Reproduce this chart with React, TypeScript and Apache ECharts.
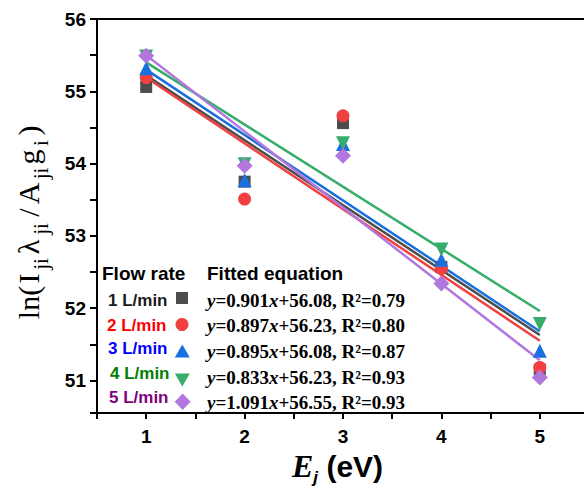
import React, { useEffect, useRef } from "react";
import * as echarts from "echarts";

const xValues = [1, 2, 3, 4, 5];
const flowRates = ["1 L/min", "2 L/min", "3 L/min", "4 L/min", "5 L/min"];
const rate1 = [55.06, 53.75, 54.56, 52.57, 51.15];
const rate2 = [55.19, 53.51, 54.66, 52.55, 51.18];
const rate3 = [55.32, 53.77, 54.27, 52.67, 51.41];
const rate4 = [55.48, 53.99, 54.28, 52.81, 51.78];
const rate5 = [55.49, 53.97, 54.11, 52.34, 51.04];
const fitX = [1, 5];
const fit1 = [55.22, 51.63];
const fit2 = [55.19, 51.55];
const fit3 = [55.3, 51.68];
const fit4 = [55.4, 51.96];
const fit5 = [55.5, 51.28];
const slopes = ["0.901", "0.897", "0.895", "0.833", "1.091"];
const intercepts = ["56.08", "56.23", "56.08", "56.23", "56.55"];
const rSquared = ["0.79", "0.80", "0.87", "0.93", "0.93"];

const allRates = [rate1, rate2, rate3, rate4, rate5];
const allFits = [fit1, fit2, fit3, fit4, fit5];
const markerColors = ["#4d4d4d", "#f14040", "#1a6fdf", "#37ad6b", "#b177de"];
const labelColors = ["#1a1a1a", "#ff0000", "#0000ff", "#008000", "#800080"];
const symbols = ["rect", "circle", "triangle", "triangle", "diamond"];
const symbolSizes = [12, 13, 14, 14, 16];
const symbolRotates = [0, 0, 0, 180, 0];

const SANS = "Arial, 'Liberation Sans', Helvetica, sans-serif";
const SERIF = "'Times New Roman', 'Liberation Serif', serif";

export default function App() {
  const ref = useRef<HTMLDivElement>(null);
  useEffect(() => {
    if (!ref.current) return;
    const chart = echarts.init(ref.current, undefined, { renderer: "svg" });

    const lineSeries = allFits.map((f, i) => ({
      type: "line",
      data: fitX.map((x, k) => [x, f[k]]),
      showSymbol: false,
      symbol: "none",
      lineStyle: { color: markerColors[i], width: 2.5 },
      z: 2,
      silent: true,
    }));
    const scatterSeries = allRates.map((r, i) => ({
      type: "scatter",
      data: xValues.map((x, k) => [x, r[k]]),
      symbol: symbols[i],
      symbolSize: symbolSizes[i],
      symbolRotate: symbolRotates[i],
      itemStyle: { color: markerColors[i], opacity: 1 },
      z: 3 + i,
    }));

    const legendRowsLabelY = [300, 325, 348, 373, 397];
    const legendLabelX = [108, 107, 108, 110, 109];
    const eqY = [300, 325, 351, 377, 402];

    const graphics: any[] = [];
    graphics.push({
      type: "text",
      x: 102,
      y: 273,
      style: {
        text: "Flow rate",
        font: `bold 19px ${SANS}`,
        fill: "#000",
        verticalAlign: "middle",
      },
    });
    graphics.push({
      type: "text",
      x: 207,
      y: 273,
      style: {
        text: "Fitted equation",
        font: `bold 19px ${SANS}`,
        fill: "#000",
        verticalAlign: "middle",
      },
    });
    flowRates.forEach((fr, i) => {
      graphics.push({
        type: "text",
        x: legendLabelX[i],
        y: legendRowsLabelY[i],
        style: {
          text: fr,
          font: `bold 17px ${SANS}`,
          fill: labelColors[i],
          verticalAlign: "middle",
        },
      });
      graphics.push({
        type: "text",
        x: 207,
        y: eqY[i],
        style: {
          text: `{it|y}{n|=${slopes[i]}}{it|x}{n|+${intercepts[i]}, R²=${rSquared[i]}}`,
          verticalAlign: "middle",
          rich: {
            it: { fontFamily: SERIF, fontWeight: "bold", fontStyle: "italic", fontSize: 19, fill: "#000" },
            n: { fontFamily: SERIF, fontWeight: "bold", fontSize: 19, fill: "#000" },
          },
        },
      });
    });
    // legend marker icons
    graphics.push({ type: "rect", shape: { x: 176, y: 292, width: 12, height: 12 }, style: { fill: markerColors[0] } });
    graphics.push({ type: "circle", shape: { cx: 182, cy: 324.5, r: 6.5 }, style: { fill: markerColors[1] } });
    graphics.push({
      type: "polygon",
      shape: { points: [[182.3, 344.5], [189.8, 357.5], [174.8, 357.5]] },
      style: { fill: markerColors[2] },
    });
    graphics.push({
      type: "polygon",
      shape: { points: [[174.8, 373.5], [189.8, 373.5], [182.3, 386.5]] },
      style: { fill: markerColors[3] },
    });
    graphics.push({
      type: "polygon",
      shape: { points: [[182.7, 393.5], [190.7, 401.7], [182.7, 409.9], [174.7, 401.7]] },
      style: { fill: markerColors[4] },
    });

    // y axis title
    const m = (w: number) => ({ fontFamily: SERIF, fontSize: 30, lineHeight: 46, width: w, verticalAlign: "middle", fill: "#000" });
    const s = (w: number) => ({ fontFamily: SERIF, fontSize: 21, lineHeight: 31, width: w, verticalAlign: "bottom", fill: "#000" });
    graphics.push({
      type: "text",
      x: 28,
      y: 222,
      rotation: Math.PI / 2,
      style: {
        text: "{a|ln(}{b|I}{c|ji}{d|λ}{e|ji}{f|/}{g|A}{h|ji}{k|g}{l|i}{o|)}",
        align: "center",
        verticalAlign: "middle",
        fill: "#000",
        rich: {
          a: m(34),
          b: m(14),
          c: s(15),
          d: m(19),
          e: s(17),
          f: m(16),
          g: m(22),
          h: s(18),
          k: m(15),
          l: s(13),
          o: m(12),
        },
      },
    });
    // x axis title
    graphics.push({
      type: "text",
      x: 292,
      y: 466,
      style: {
        text: "{e|E}{j|j}{u| (eV)}",
        verticalAlign: "middle",
        fill: "#000",
        rich: {
          e: { fontFamily: SERIF, fontWeight: "bold", fontStyle: "italic", fontSize: 32, lineHeight: 40, verticalAlign: "middle", fill: "#000" },
          j: { fontFamily: SANS, fontWeight: "bold", fontStyle: "italic", fontSize: 17, lineHeight: 26, verticalAlign: "bottom", fill: "#000" },
          u: { fontFamily: SANS, fontWeight: "bold", fontSize: 30, lineHeight: 40, verticalAlign: "middle", fill: "#000" },
        },
      },
    });

    const intLabel = (v: number) => (Math.abs(v - Math.round(v)) < 1e-6 ? String(Math.round(v)) : "");

    chart.setOption({
      animation: false,
      backgroundColor: "#fff",
      grid: { left: 97, right: 2, top: 19, bottom: 76, containLabel: false },
      xAxis: [
        {
          type: "value",
          min: 0.5,
          max: 5.5,
          interval: 0.5,
          axisLine: { show: true, onZero: false, lineStyle: { color: "#000", width: 2 } },
          axisTick: { show: true, inside: false, length: 6, lineStyle: { color: "#000", width: 2 } },
          axisLabel: {
            formatter: intLabel,
            fontFamily: SANS,
            fontWeight: "bold",
            fontSize: 19,
            color: "#000",
            margin: 14,
          },
          splitLine: { show: false },
        },
        {
          type: "value",
          position: "top",
          min: 0.5,
          max: 5.5,
          interval: 0.5,
          axisLine: { show: true, onZero: false, lineStyle: { color: "#000", width: 2 } },
          axisTick: { show: false },
          axisLabel: { show: false },
          splitLine: { show: false },
        },
      ],
      yAxis: {
        type: "value",
        min: 50.55,
        max: 56,
        minInterval: 0.5,
        maxInterval: 0.5,
        splitNumber: 11,
        axisLine: { show: true, onZero: false, lineStyle: { color: "#000", width: 2 } },
        axisTick: { show: true, inside: false, length: 7, lineStyle: { color: "#000", width: 2 } },
        axisLabel: {
          formatter: intLabel,
          fontFamily: SANS,
          fontWeight: "bold",
          fontSize: 19,
          color: "#000",
          margin: 11,
        },
        splitLine: { show: false },
      },
      series: [...lineSeries, ...scatterSeries],
      graphic: graphics,
    });
    return () => chart.dispose();
  }, []);

  return (
    <div style={{ position: "fixed", left: 0, top: 0, width: 584, height: 489, overflow: "hidden", background: "#fff" }}>
      <div ref={ref} style={{ width: 592, height: 489 }} />
    </div>
  );
}
